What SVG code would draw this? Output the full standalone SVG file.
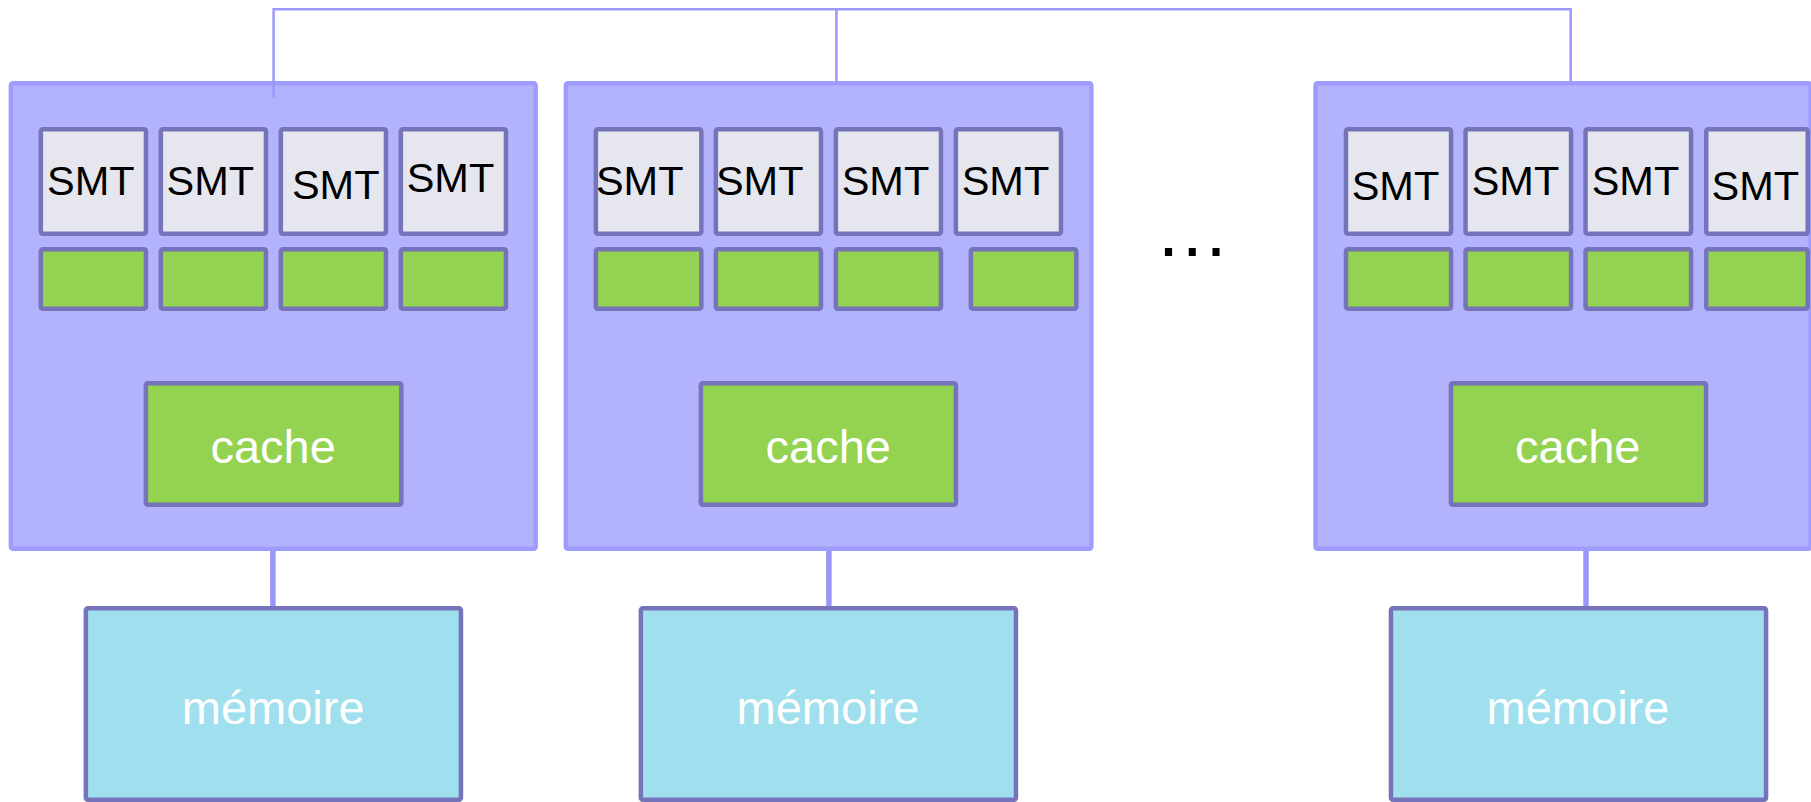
<svg xmlns="http://www.w3.org/2000/svg" width="1811" height="802" viewBox="0 0 1811 802">
  <style>
    .node { fill: #b3b3fd; stroke: #9e9cfe; stroke-width: 4.5; }
    .smt { fill: #e6e6ef; stroke: #7574bb; stroke-width: 4.5; }
    .reg { fill: #94d251; stroke: #7574bb; stroke-width: 4.5; }
    .cache { fill: #94d251; stroke: #7574bb; stroke-width: 4.5; }
    .mem { fill: #a0e0ee; stroke: #7574bb; stroke-width: 4.5; }
    .bus { fill: none; stroke: #9a98fb; stroke-width: 2.5; }
    .link { fill: none; stroke: #9796fa; stroke-width: 5.5; }
    .lbl { font-family: "Liberation Sans", Arial, sans-serif; fill: #000; text-anchor: middle; font-size: 41.5px; }
    .wlbl { font-family: "Liberation Sans", Arial, sans-serif; fill: #fff; text-anchor: middle; font-size: 47px; }
  </style>
  <rect width="1811" height="802" fill="#ffffff"/>

  <!-- processor node 1 -->
  <g id="node1">
    <rect class="node" x="10.85" y="83.25" width="524.8" height="465.5" rx="2"/>
    <rect class="smt" x="40.85" y="129.25" width="105.1" height="104.5" rx="2"/>
    <rect class="smt" x="160.85" y="129.25" width="105.1" height="104.5" rx="2"/>
    <rect class="smt" x="280.85" y="129.25" width="105.1" height="104.5" rx="2"/>
    <rect class="smt" x="400.85" y="129.25" width="105.1" height="104.5" rx="2"/>
    <text class="lbl" x="90.8" y="195" font-size="42">SMT</text>
    <text class="lbl" x="210.3" y="195">SMT</text>
    <text class="lbl" x="335.7" y="199.3" font-size="46">SMT</text>
    <text class="lbl" x="450.5" y="191.7">SMT</text>
    <rect class="reg" x="40.85" y="249.25" width="105.1" height="59.5" rx="2"/>
    <rect class="reg" x="160.85" y="249.25" width="105.1" height="59.5" rx="2"/>
    <rect class="reg" x="280.85" y="249.25" width="105.1" height="59.5" rx="2"/>
    <rect class="reg" x="400.85" y="249.25" width="105.1" height="59.5" rx="2"/>
    <rect class="cache" x="145.85" y="383.25" width="255.5" height="121.5" rx="2"/>
    <text class="wlbl" x="273.2" y="463">cache</text>
  </g>
  <g id="mem1">
    <rect class="mem" x="85.85" y="608.25" width="375.1" height="191.5" rx="2"/>
    <text class="wlbl" x="273.2" y="724">mémoire</text>
  </g>

  <!-- processor node 2 -->
  <g id="node2">
    <rect class="node" x="565.85" y="83.25" width="525.5" height="465.5" rx="2"/>
    <rect class="smt" x="595.85" y="129.25" width="105.5" height="104.5" rx="2"/>
    <rect class="smt" x="715.85" y="129.25" width="105.1" height="104.5" rx="2"/>
    <rect class="smt" x="835.85" y="129.25" width="105.1" height="104.5" rx="2"/>
    <rect class="smt" x="955.85" y="129.25" width="105.1" height="104.5" rx="2"/>
    <text class="lbl" x="639.7" y="195">SMT</text>
    <text class="lbl" x="759.7" y="195">SMT</text>
    <text class="lbl" x="885.5" y="195">SMT</text>
    <text class="lbl" x="1005.5" y="195">SMT</text>
    <rect class="reg" x="595.85" y="249.25" width="105.5" height="59.5" rx="2"/>
    <rect class="reg" x="715.85" y="249.25" width="105.1" height="59.5" rx="2"/>
    <rect class="reg" x="835.85" y="249.25" width="105.1" height="59.5" rx="2"/>
    <rect class="reg" x="970.85" y="249.25" width="105.5" height="59.5" rx="2"/>
    <rect class="cache" x="700.85" y="383.25" width="255.1" height="121.5" rx="2"/>
    <text class="wlbl" x="828.3" y="463">cache</text>
  </g>
  <g id="mem2">
    <rect class="mem" x="640.85" y="608.25" width="375.1" height="191.5" rx="2"/>
    <text class="wlbl" x="828" y="724">mémoire</text>
  </g>

  <!-- ellipsis between nodes -->
  <g id="more">
    <text x="1154.7" y="256" font-family="'Liberation Sans', Arial, sans-serif" font-size="75" fill="#000">…</text>
  </g>

  <!-- processor node 3 -->
  <g id="node3">
    <rect class="node" x="1315.55" y="83.25" width="495.2" height="465.5" rx="2"/>
    <rect class="smt" x="1345.95" y="129.25" width="105.1" height="104.5" rx="2"/>
    <rect class="smt" x="1465.55" y="129.25" width="105.5" height="104.5" rx="2"/>
    <rect class="smt" x="1585.55" y="129.25" width="105.5" height="104.5" rx="2"/>
    <rect class="smt" x="1706.25" y="129.25" width="101.5" height="104.5" rx="2"/>
    <text class="lbl" x="1395.5" y="200">SMT</text>
    <text class="lbl" x="1515.5" y="195">SMT</text>
    <text class="lbl" x="1635.5" y="195">SMT</text>
    <text class="lbl" x="1755.3" y="200">SMT</text>
    <rect class="reg" x="1345.95" y="249.25" width="105.1" height="59.5" rx="2"/>
    <rect class="reg" x="1465.55" y="249.25" width="105.5" height="59.5" rx="2"/>
    <rect class="reg" x="1585.55" y="249.25" width="105.5" height="59.5" rx="2"/>
    <rect class="reg" x="1706.25" y="249.25" width="101.5" height="59.5" rx="2"/>
    <rect class="cache" x="1450.95" y="383.25" width="255.1" height="121.5" rx="2"/>
    <text class="wlbl" x="1577.8" y="463">cache</text>
  </g>
  <g id="mem3">
    <rect class="mem" x="1390.95" y="608.25" width="375.1" height="191.5" rx="2"/>
    <text class="wlbl" x="1578" y="724">mémoire</text>
  </g>

  <!-- interconnect bus and memory links -->
  <g id="connectors">
    <path class="bus" d="M273.6,98 V9.3 H1570.7 V81 M836.4,9.3 V81"/>
    <path class="link" d="M272.9,551 V606 M828.9,551 V606 M1586,551 V606"/>
  </g>
</svg>
